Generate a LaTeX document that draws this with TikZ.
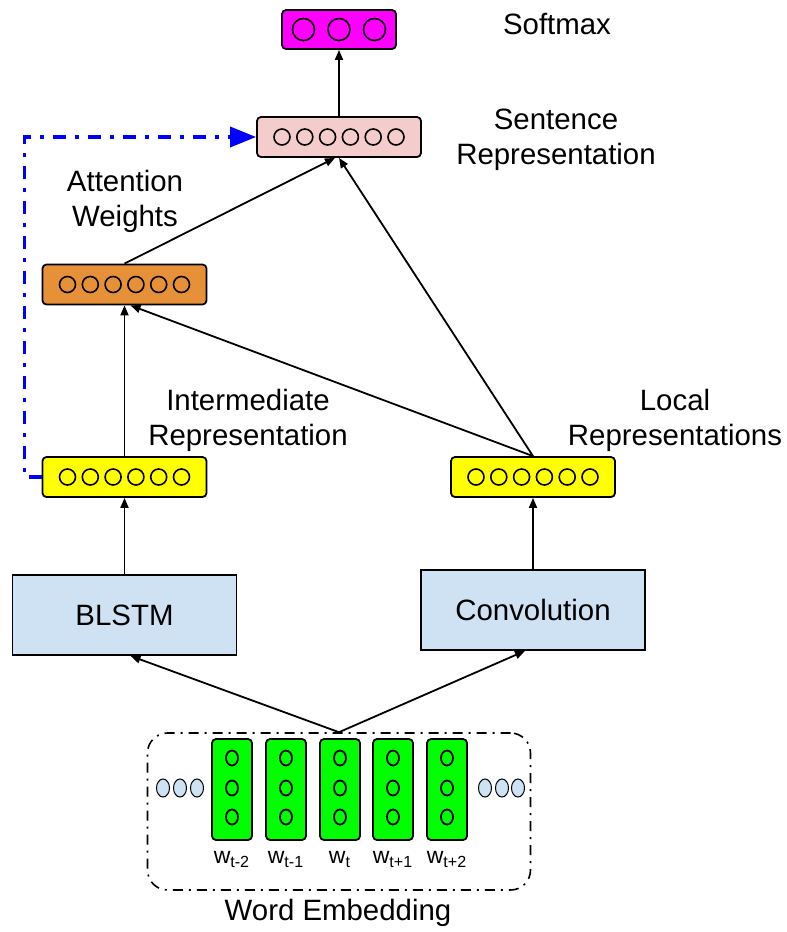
\documentclass[tikz,border=0pt]{standalone}
\usepackage{fontspec}
\setmainfont{Liberation Sans}
\usepackage{tikz}
\usetikzlibrary{positioning}
\usetikzlibrary{arrows.meta}
\usetikzlibrary{shapes.geometric}
\usetikzlibrary{calc}

\definecolor{smaxfill}{HTML}{FF00FF}
\definecolor{sentfill}{HTML}{F4CCCC}
\definecolor{attfill}{HTML}{E69138}
\definecolor{repfill}{HTML}{FFFF00}
\definecolor{layerfill}{HTML}{CFE2F3}
\definecolor{embfill}{HTML}{00FF00}

\begin{document}
\begin{tikzpicture}[x=0.5pt,y=-0.5pt]
        \tikzstyle{vec}=[draw,rounded corners=2pt,line width=0.9pt,
            minimum width=82pt,minimum height=20pt,inner sep=0pt]
        \tikzstyle{unit}=[circle,draw,line width=0.8pt,minimum size=8pt,inner sep=0pt]
        \tikzstyle{layer}=[draw,fill=layerfill,line width=0.9pt,
            minimum width=112pt,minimum height=40pt,
            font=\fontsize{14.7}{17.5}\selectfont]
        \tikzstyle{wvec}=[draw,fill=embfill,rounded corners=2pt,line width=0.9pt,
            minimum width=20pt,minimum height=50.5pt,inner sep=0pt]
        \tikzstyle{wunit}=[ellipse,draw,line width=0.9pt,minimum width=6pt,
            minimum height=7.5pt,inner sep=0pt]
        \tikzstyle{ctx}=[ellipse,draw,fill=layerfill,line width=0.5pt,
            minimum width=6.5pt,minimum height=9pt,inner sep=0pt]
        \tikzstyle{lab}=[font=\fontsize{14.7}{17.5}\selectfont,align=center]
        \tikzstyle{arr}=[-{Triangle[length=5pt,width=4pt]},line width=0.9pt]

        \useasboundingbox (0,0) rectangle (787,932);

        % vectors
        \node[vec,fill=smaxfill,minimum width=57pt,minimum height=19.5pt] (smax) at (339,29.5) {};
        \node[vec,fill=sentfill] (sent) at (339,137) {};
        \node[vec,fill=attfill] (att) at (124.5,284.5) {};
        \node[vec,fill=repfill] (inter) at (124.5,477) {};
        \node[vec,fill=repfill] (locl) at (533,477) {};

        \foreach \i in {1,2,3}
            \node[unit,minimum size=11pt] (smax\i) at ($(smax)+({35.5*\i-71},0)$) {};
        \foreach \b in {sent,att,inter,locl}
            \foreach \i in {1,...,6}
                \node[unit] (\b\i) at ($(\b)+({22.8*\i-79.8},0)$) {};

        % layers
        \node[layer] (blstm) at (124.5,615) {BLSTM};
        \node[layer] (conv) at (533,610) {Convolution};

        % word embedding
        \node[draw,line width=0.8pt,rounded corners=10pt,
            dash pattern=on 5pt off 3pt on 1pt off 3pt,
            minimum width=191.5pt,minimum height=78.5pt] (emb) at (339,811.5) {};
        \foreach \x [count=\k] in {232,286,340,393,447} {
            \node[wvec] (g\k) at (\x,789.5) {};
            \foreach \dy [count=\j] in {-31.5,-1.5,27.5}
                \node[wunit] (g\k\j) at ($(g\k)+(0,\dy)$) {};
        }
        \foreach \k/\s in {1/t-2,2/t-1,3/t,4/t+1,5/t+2}
            \node[font=\fontsize{11.5}{13}\selectfont,inner sep=0pt,below=5pt of g\k] (w\k) {w\textsubscript{\s}};
        \foreach \x [count=\k] in {163,180,197,485,502,518}
            \node[ctx] (c\k) at (\x,788) {};

        % labels
        \node[lab] (smaxlab) at (557,24) {Softmax};
        \node[lab] (sentlab) at (556,140) {Sentence\\Representation};
        \node[lab] (attlab) at (125,201) {Attention\\Weights};
        \node[lab] (interlab) at (248,420) {Intermediate\\Representation};
        \node[lab] (locllab) at (675,420) {Local\\Representations};
        \node[lab] (emblab) at (338,913) {Word Embedding};

        % connections
        \draw[arr] (emb.north) -- ([xshift=3pt]blstm.south);
        \draw[arr] (emb.north) -- ([xshift=-4pt]conv.south);
        \draw[arr] (blstm) -- (inter);
        \draw[arr] (conv.north) -- (locl.south);
        \draw[arr] (inter) -- (att);
        \draw[arr] (locl.north) -- ([xshift=3pt]att.south);
        \draw[arr] (att.north) -- ([xshift=-2pt]sent.south);
        \draw[arr] (locl.north) -- (sent.south);
        \draw[arr] (sent) -- (smax);

        \draw[-{Triangle[length=13pt,width=10pt]},blue,line width=1.8pt,
            dash pattern=on 6.5pt off 4.5pt on 2pt off 4.5pt]
            (inter.west) -- ++(-17,0) |- (sent.west);
\end{tikzpicture}
\end{document}
